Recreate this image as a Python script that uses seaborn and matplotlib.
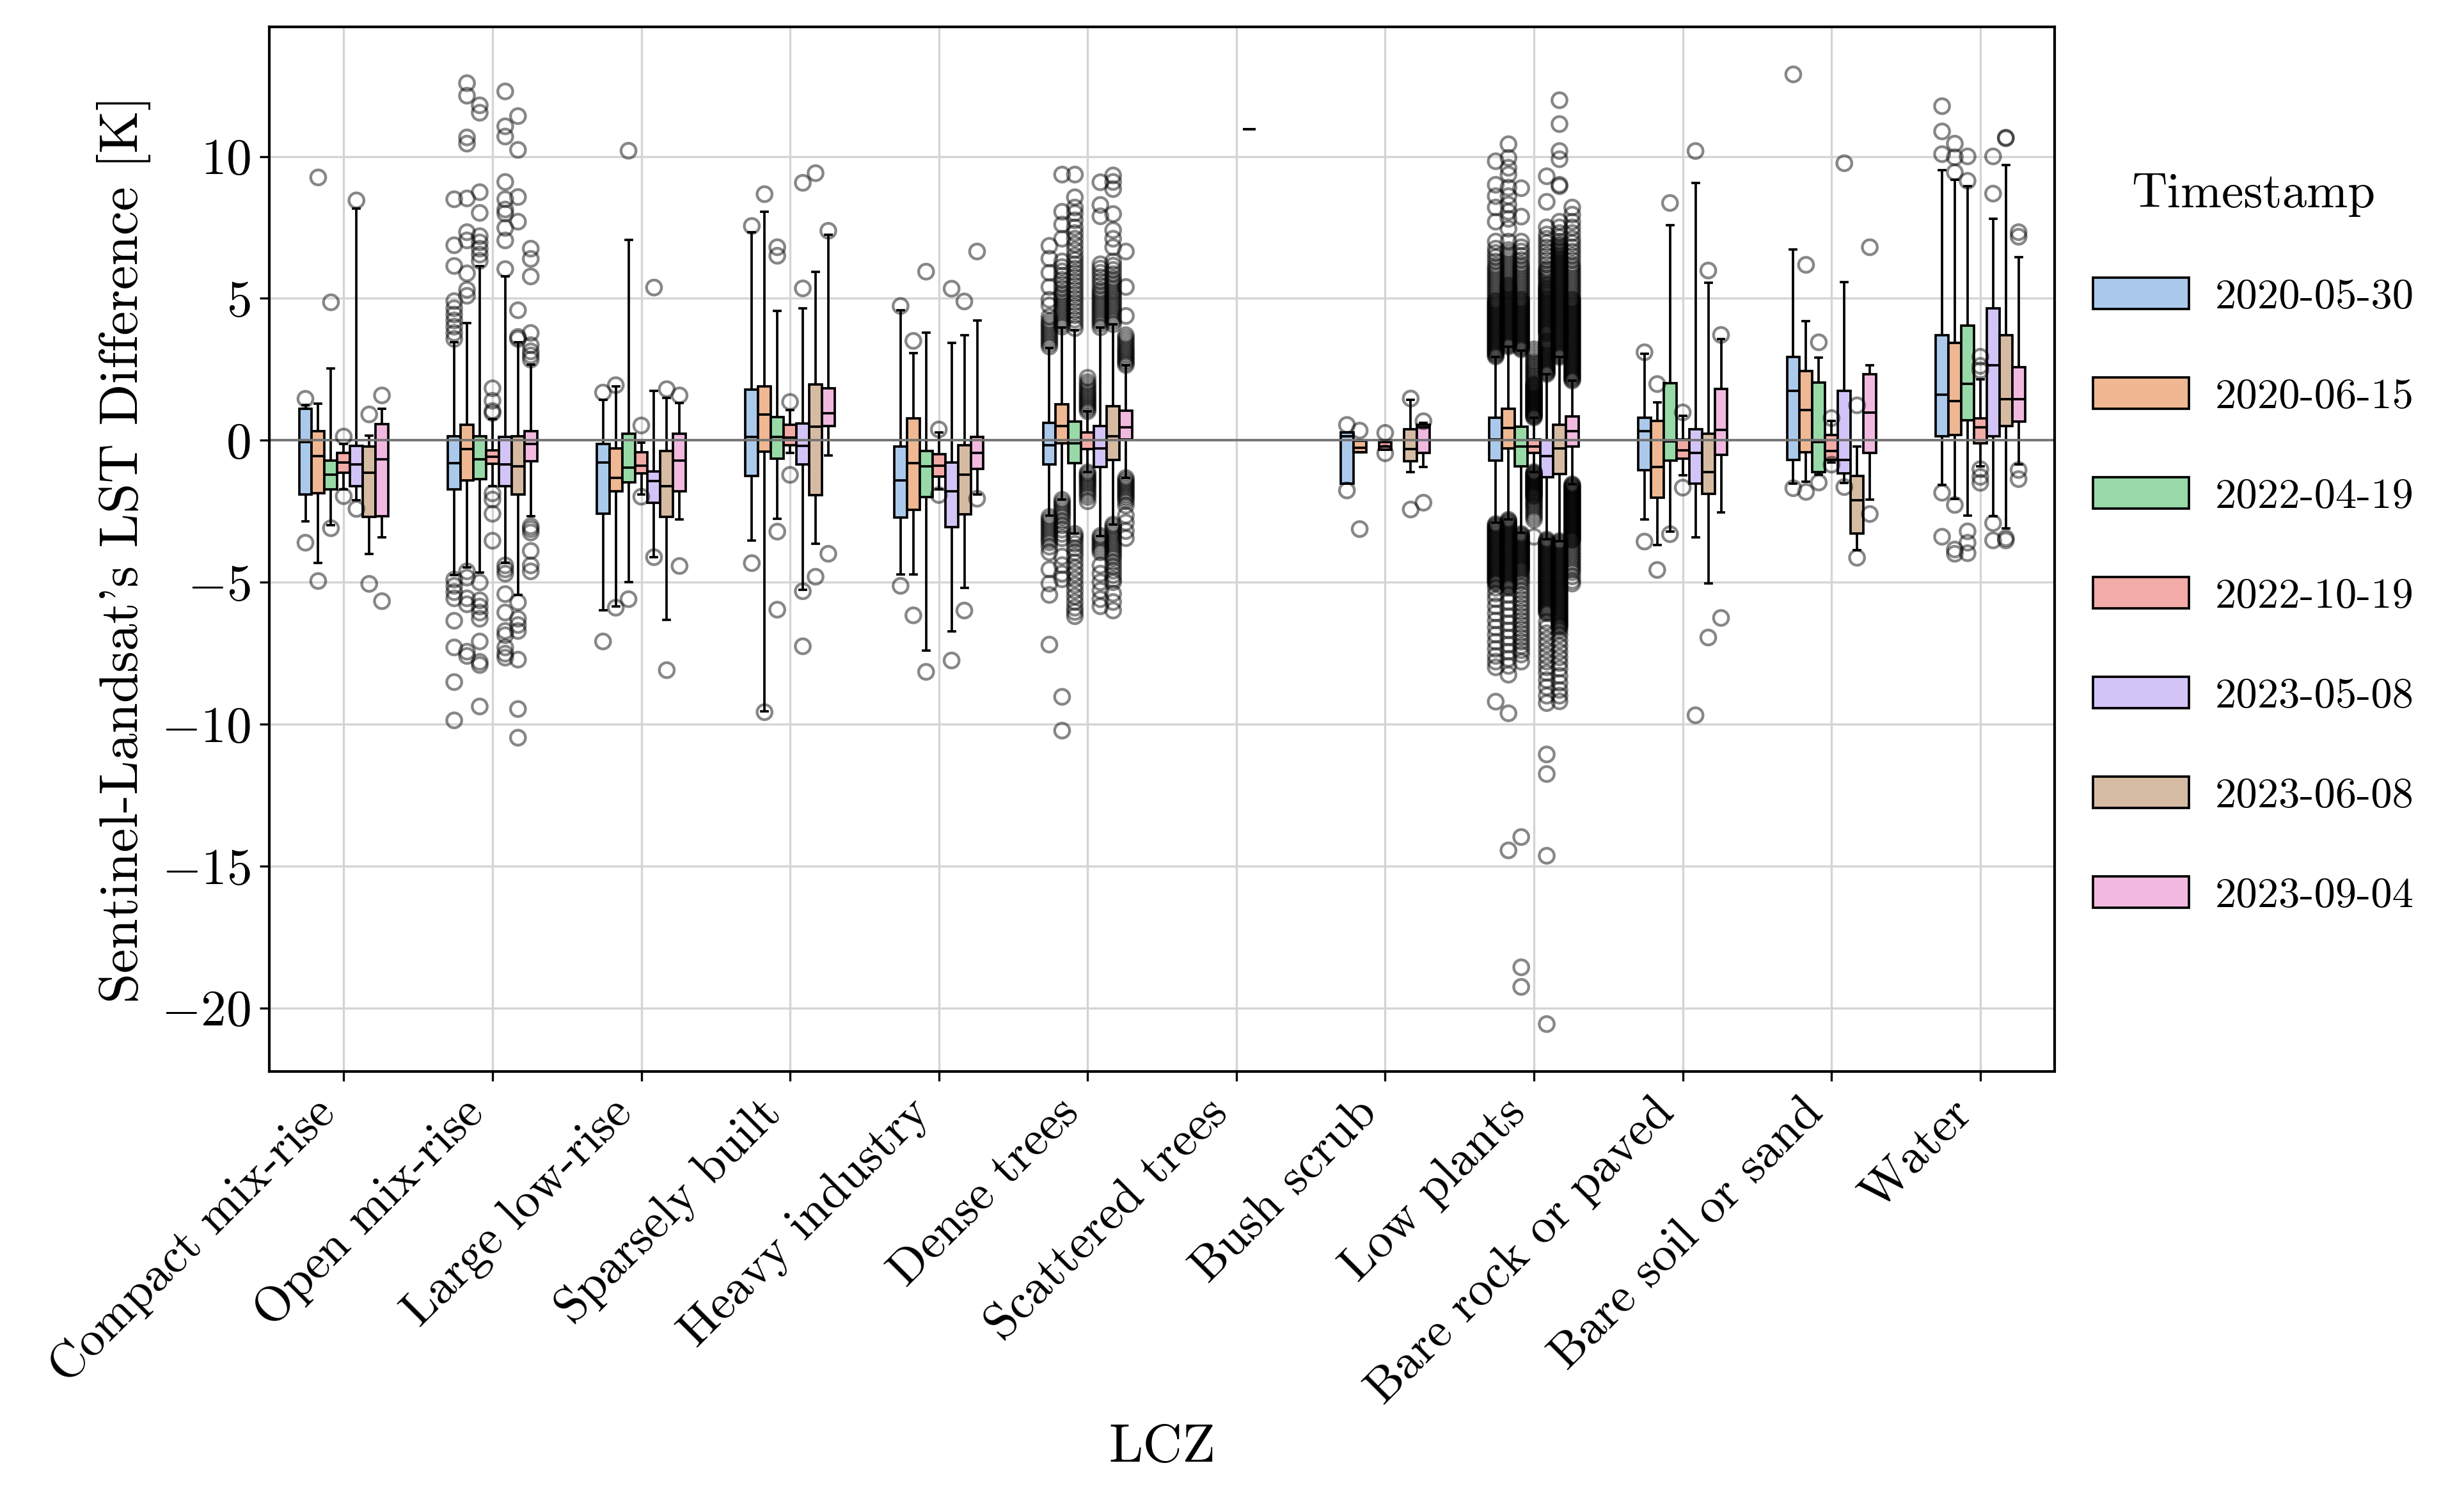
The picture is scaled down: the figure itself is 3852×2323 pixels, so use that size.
import numpy as np
import pandas as pd
import matplotlib.pyplot as plt
import seaborn as sns

plt.rcParams["font.family"] = "cmr10"
plt.rcParams["mathtext.fontset"] = "cm"
plt.rcParams["axes.formatter.use_mathtext"] = True
plt.rcParams["axes.linewidth"] = 1.0

lcz = ["Compact mix-rise", "Open mix-rise", "Large low-rise", "Sparsely built",
       "Heavy industry", "Dense trees", "Scattered trees", "Bush scrub",
       "Low plants", "Bare rock or paved", "Bare soil or sand", "Water"]
dates = ["2020-05-30", "2020-06-15", "2022-04-19", "2022-10-19",
         "2023-05-08", "2023-06-08", "2023-09-04"]

# per LCZ: (lower whisker, Q1, median, Q3, upper whisker), None = no data
box_0530 = [(-2.85, -1.90, -0.06, 1.10, 1.25), (-4.74, -1.74, -0.81, 0.13, 3.45),
            (-6.0, -2.59, -0.78, -0.13, 1.42), (-3.54, -1.25, 0.12, 1.78, 7.33),
            (-4.73, -2.73, -1.42, -0.22, 4.57), (-2.65, -0.86, -0.18, 0.62, 3.26),
            None, (-1.53, -1.53, 0.14, 0.27, 0.27),
            (-2.9, -0.71, 0.02, 0.79, 2.93), (-2.79, -1.05, 0.31, 0.79, 3.05),
            (-1.53, -0.69, 1.74, 2.94, 6.73), (-1.57, 0.14, 1.61, 3.69, 9.52)]
box_0615 = [(-4.32, -1.87, -0.57, 0.33, 1.30), (-4.48, -1.41, -0.32, 0.55, 4.14),
            (-5.86, -1.80, -1.33, -0.28, 1.90), (-9.55, -0.39, 0.91, 1.90, 8.06),
            (-4.73, -2.46, -0.81, 0.78, 3.07), (-2.09, -0.10, 0.51, 1.26, 3.98),
            None, (-0.42, -0.42, -0.26, -0.02, -0.02),
            (-2.79, -0.29, 0.43, 1.10, 3.29), (-3.69, -2.02, -0.95, 0.67, 1.33),
            (-1.45, -0.42, 1.07, 2.43, 4.19), (-2.06, 0.19, 1.37, 3.42, 9.17)]
box_0419 = [(-3.0, -1.72, -1.22, -0.71, 2.52), (-4.65, -1.36, -0.68, 0.13, 6.13),
            (-4.99, -1.48, -0.96, 0.23, 7.06), (-2.77, -0.64, 0.12, 0.81, 4.55),
            (-7.41, -2.01, -0.93, -0.37, 3.79), (-3.29, -0.81, -0.10, 0.65, 3.87),
            None, None,
            (-3.26, -0.93, -0.21, 0.48, 3.17), (-3.21, -0.71, -0.05, 2.02, 7.57),
            (-1.21, -1.13, -0.06, 2.03, 2.91), (-2.65, 0.70, 1.98, 4.03, 8.96)]
box_1019 = [(-1.72, -1.14, -0.78, -0.45, -0.13), (-1.61, -0.83, -0.58, -0.35, 0.74),
            (-1.90, -1.17, -0.90, -0.42, -0.09), (-0.45, -0.17, 0.09, 0.55, 1.06),
            (-1.74, -1.29, -0.89, -0.50, 0.27), (-1.13, -0.30, 0.0, 0.27, 1.02),
            None, (-0.34, -0.34, -0.21, -0.06, -0.06),
            (-1.12, -0.45, -0.21, 0.02, 0.79), (-1.24, -0.64, -0.36, 0.02, 0.86),
            (-0.78, -0.70, -0.37, 0.18, 0.67), (-0.93, -0.10, 0.46, 0.78, 2.14)]
box_0508 = [(-2.12, -1.62, -0.86, -0.20, 8.16), (-4.33, -1.61, -0.86, 0.12, 5.78),
            (-4.12, -2.20, -1.43, -1.10, 1.75), (-5.28, -0.86, -0.20, 0.59, 4.64),
            (-6.73, -3.05, -1.80, -0.78, 3.42), (-3.37, -0.94, -0.29, 0.51, 3.98),
            (10.96, 10.96, 10.96, 10.96, 10.96), None,
            (-3.5, -1.31, -0.57, 0.0, 2.33), (-3.43, -1.52, -0.45, 0.38, 9.07),
            (-1.5, -1.17, -0.69, 1.74, 5.58), (-2.68, 0.14, 2.65, 4.65, 7.81)]
box_0608 = [(-4.0, -2.71, -1.14, -0.23, 0.16), (-5.45, -1.90, -0.93, 0.13, 3.45),
            (-6.33, -2.70, -1.62, -0.38, 1.49), (-3.64, -1.94, 0.48, 1.97, 5.94),
            (-5.21, -2.60, -1.21, -0.18, 3.69), (-2.97, -0.70, 0.14, 1.21, 4.09),
            None, (-1.13, -0.73, -0.30, 0.38, 1.42),
            (-3.55, -1.19, -0.29, 0.55, 2.93), (-5.05, -1.88, -1.12, 0.24, 5.55),
            (-3.88, -3.29, -2.12, -1.26, -0.21), (-3.1, 0.51, 1.45, 3.69, 9.7)]
box_0904 = [(-3.43, -2.67, -0.67, 0.57, 1.10), (-2.67, -0.75, -0.13, 0.33, 2.67),
            (-2.78, -1.80, -0.71, 0.23, 1.32), (-0.54, 0.49, 0.96, 1.83, 7.25),
            (-1.90, -1.0, -0.45, 0.11, 4.22), (-1.33, 0.02, 0.46, 1.05, 2.65),
            None, (-0.94, -0.45, 0.46, 0.54, 0.62),
            (-1.55, -0.21, 0.31, 0.83, 2.1), (-2.55, -0.52, 0.36, 1.81, 3.57),
            (-2.09, -0.45, 0.97, 2.33, 2.65), (-0.85, 0.65, 1.45, 2.57, 6.45)]

# outliers of the two crowded zones
dense_0530 = [3.3, 3.4, 3.5, 3.6, 3.7, 3.8, 3.9, 4.0, 4.1, 4.2, 4.35, 4.75, 4.95, 5.4, 5.9, 6.4, 6.85,
              -2.7, -2.8, -2.9, -3.0, -3.1, -3.2, -3.3, -3.4, -3.5, -3.6, -3.75, -3.95, -4.55,
              -5.05, -5.45, -7.2]
dense_0615 = [4.0, 4.1, 4.2, 4.3, 4.4, 4.5, 4.6, 4.7, 4.8, 4.9, 5.0, 5.1, 5.2, 5.35, 5.5, 5.65, 5.8,
              5.95, 6.1, 6.3, 7.1, 7.6, 8.05, 9.36,
              -2.1, -2.2, -2.3, -2.4, -2.5, -2.6, -2.7, -2.85, -3.0, -3.15, -3.3, -3.45, -4.1, -4.4,
              -4.7, -4.9, -9.04, -10.23]
dense_0419 = [3.95, 4.1, 4.25, 4.4, 4.55, 4.7, 4.85, 5.0, 5.15, 5.3, 5.45, 5.6, 5.75, 5.9, 6.05, 6.2,
              6.35, 6.5, 6.7, 6.9, 7.1, 7.3, 7.5, 7.75, 8.0, 8.2, 8.56, 9.36,
              -3.3, -3.4, -3.5, -3.65, -3.8, -3.95, -4.1, -4.3, -4.5, -4.7, -4.9, -5.1, -5.3, -5.5,
              -5.7, -5.9, -6.05, -6.2]
dense_1019 = [1.02, 1.1, 1.18, 1.26, 1.34, 1.42, 1.5, 1.58, 1.66, 1.75, 1.85, 1.95, 2.05, 2.2,
              -1.13, -1.2, -1.28, -1.36, -1.44, -1.52, -1.6, -1.7, -1.8, -1.9, -2.0, -2.15]
dense_0508 = [3.98, 4.1, 4.2, 4.3, 4.4, 4.5, 4.6, 4.7, 4.8, 4.9, 5.0, 5.1, 5.2, 5.3, 5.45, 5.6, 5.75,
              5.9, 6.05, 6.2, 7.89, 8.29, 9.09,
              -3.37, -3.45, -3.55, -3.65, -3.75, -3.85, -3.95, -4.41, -4.7, -5.0, -5.3, -5.6, -5.85]
dense_0608 = [4.09, 4.2, 4.3, 4.4, 4.5, 4.6, 4.7, 4.8, 4.9, 5.0, 5.1, 5.2, 5.3, 5.4, 5.5, 5.6, 5.7,
              5.85, 6.0, 6.15, 6.3, 6.8, 7.1, 7.4, 7.97, 8.85, 9.1, 9.33,
              -2.97, -3.05, -3.15, -3.25, -3.35, -3.45, -3.55, -3.65, -3.75, -3.85, -3.95, -4.05,
              -4.15, -4.3, -4.45, -4.6, -4.75, -4.9, -5.0, -5.4, -5.7, -6.0]
dense_0904 = [2.65, 2.73, 2.81, 2.89, 2.97, 3.05, 3.13, 3.21, 3.3, 3.4, 3.5, 3.6, 3.7, 4.38, 5.4, 6.65,
              -1.33, -1.41, -1.49, -1.57, -1.65, -1.73, -1.81, -1.89, -1.97, -2.05, -2.15, -2.3,
              -2.65, -2.9, -3.2, -3.45]

low_0530 = [2.95, 3.05, 3.15, 3.25, 3.35, 3.45, 3.55, 3.65, 3.75, 3.85, 3.95, 4.05, 4.15, 4.25, 4.35,
            4.45, 4.55, 4.65, 4.75, 4.85, 4.95, 5.05, 5.15, 5.25, 5.35, 5.45, 5.55, 5.65, 5.75, 5.85,
            5.95, 6.05, 6.15, 6.3, 6.45, 6.6, 6.75, 7.0, 7.7, 8.2, 8.6, 9.0, 9.83,
            -2.95, -3.05, -3.15, -3.25, -3.35, -3.45, -3.55, -3.65, -3.75, -3.85, -3.95, -4.05,
            -4.15, -4.25, -4.35, -4.45, -4.55, -4.65, -4.75, -4.85, -4.95, -5.05, -5.2, -5.4,
            -5.6, -5.85, -6.1, -6.35, -6.6, -6.85, -7.1, -7.35, -7.6, -7.8, -8.0, -9.21]
low_0615 = [3.3, 3.4, 3.5, 3.6, 3.7, 3.8, 3.9, 4.0, 4.1, 4.2, 4.3, 4.4, 4.5, 4.6, 4.7, 4.8, 4.9,
            5.0, 5.1, 5.2, 5.3, 5.4, 5.5, 5.6, 5.7, 5.8, 5.9, 6.0, 6.1, 6.2, 6.3, 6.4, 6.5, 6.6,
            6.7, 7.0, 7.45, 7.8, 8.05, 8.3, 8.6, 8.9, 9.36, 9.6, 9.95, 10.43,
            -2.8, -2.9, -3.0, -3.1, -3.2, -3.3, -3.4, -3.5, -3.6, -3.7, -3.8, -3.9, -4.0, -4.1,
            -4.2, -4.3, -4.4, -4.5, -4.6, -4.7, -4.8, -4.9, -5.0, -5.1, -5.2, -5.45, -5.7, -5.95,
            -6.2, -6.45, -6.7, -6.95, -7.2, -7.45, -7.7, -7.95, -8.26, -9.62, -14.45]
low_0419 = [3.2, 3.3, 3.4, 3.5, 3.6, 3.7, 3.8, 3.9, 4.0, 4.1, 4.2, 4.3, 4.4, 4.5, 4.6, 4.7, 4.8,
            4.9, 5.0, 5.1, 5.2, 5.3, 5.4, 5.5, 5.6, 5.7, 5.8, 5.9, 6.0, 6.1, 6.2, 6.35, 6.5, 6.65,
            6.8, 7.0, 7.88, 8.88,
            -3.3, -3.4, -3.5, -3.6, -3.7, -3.8, -3.9, -4.0, -4.1, -4.2, -4.3, -4.4, -4.5, -4.6,
            -4.7, -4.8, -4.9, -5.0, -5.15, -5.3, -5.45, -5.6, -5.75, -5.9, -6.05, -6.2, -6.35,
            -6.5, -6.65, -6.8, -6.95, -7.1, -7.25, -7.4, -7.55, -7.8, -13.98, -18.57, -19.26]
low_1019 = [0.8, 0.88, 0.96, 1.04, 1.12, 1.2, 1.28, 1.36, 1.44, 1.52, 1.6, 1.68, 1.76, 1.84, 1.92,
            2.0, 2.08, 2.16, 2.24, 2.32, 2.4, 2.48, 2.56, 2.64, 2.72, 2.8, 2.9, 3.0, 3.1, 3.2,
            -1.12, -1.2, -1.28, -1.36, -1.44, -1.52, -1.6, -1.68, -1.76, -1.84, -1.92, -2.0,
            -2.08, -2.16, -2.24, -2.32, -2.4, -2.5, -2.6, -2.7, -2.8, -3.4]
low_0508 = [2.33, 2.43, 2.53, 2.63, 2.73, 2.83, 2.93, 3.03, 3.13, 3.23, 3.33, 3.43, 3.53, 3.63,
            3.73, 3.83, 3.93, 4.03, 4.13, 4.23, 4.33, 4.43, 4.53, 4.63, 4.73, 4.83, 4.93, 5.03,
            5.13, 5.23, 5.33, 5.45, 5.6, 5.75, 5.9, 6.05, 6.2, 6.35, 6.5, 6.65, 6.8, 6.95, 7.1,
            7.25, 7.5, 8.4, 9.3,
            -3.5, -3.6, -3.7, -3.8, -3.9, -4.0, -4.1, -4.2, -4.3, -4.4, -4.5, -4.6, -4.7, -4.8,
            -4.9, -5.0, -5.1, -5.2, -5.3, -5.4, -5.5, -5.6, -5.7, -5.8, -5.9, -6.0, -6.1, -6.4,
            -6.6, -6.8, -7.0, -7.2, -7.4, -7.6, -7.8, -8.0, -8.2, -8.45, -8.7, -9.0, -9.26,
            -11.07, -11.76, -14.64, -20.57]
low_0608 = [2.93, 3.03, 3.13, 3.23, 3.33, 3.43, 3.53, 3.63, 3.73, 3.83, 3.93, 4.03, 4.13, 4.23,
            4.33, 4.43, 4.53, 4.63, 4.73, 4.83, 4.93, 5.03, 5.13, 5.23, 5.33, 5.43, 5.53, 5.63,
            5.73, 5.83, 5.93, 6.03, 6.13, 6.23, 6.33, 6.43, 6.53, 6.63, 6.73, 6.85, 7.0, 7.15,
            7.3, 7.5, 7.7, 8.95, 9.0, 9.9, 10.19, 11.14, 11.98,
            -3.55, -3.65, -3.75, -3.85, -3.95, -4.05, -4.15, -4.25, -4.35, -4.45, -4.55, -4.65,
            -4.75, -4.85, -4.95, -5.05, -5.15, -5.25, -5.35, -5.45, -5.55, -5.65, -5.75, -5.85,
            -5.95, -6.05, -6.15, -6.25, -6.35, -6.45, -6.55, -6.7, -6.85, -7.05, -7.25, -7.45,
            -7.65, -7.85, -8.05, -8.3, -8.55, -8.8, -9.0, -9.2]
low_0904 = [2.1, 2.2, 2.3, 2.4, 2.5, 2.6, 2.7, 2.8, 2.9, 3.0, 3.1, 3.2, 3.3, 3.4, 3.5, 3.6, 3.7,
            3.8, 3.9, 4.0, 4.1, 4.2, 4.3, 4.4, 4.5, 4.6, 4.7, 4.8, 4.9, 5.0, 5.1, 5.2, 5.3, 5.4,
            5.5, 5.6, 5.7, 5.8, 5.9, 6.0, 6.1, 6.2, 6.35, 6.5, 6.65, 6.8, 6.95, 7.1, 7.3, 7.5,
            7.7, 7.95, 8.2,
            -1.55, -1.63, -1.71, -1.79, -1.87, -1.95, -2.03, -2.11, -2.19, -2.27, -2.35, -2.43,
            -2.51, -2.59, -2.67, -2.75, -2.83, -2.91, -2.99, -3.07, -3.15, -3.23, -3.31, -3.39,
            -3.47, -3.55, -3.65, -3.75, -3.85, -3.95, -4.05, -4.15, -4.25, -4.35, -4.45, -4.55,
            -4.65, -4.8, -4.95, -5.05]

# the solid black cores of the low-plants clouds hold even more points
core_0530 = [3.0, 3.1, 3.2, 3.3, 3.4, 3.5, 3.6, 3.7, 3.8, 3.9, 4.0, 4.1, 4.2, 4.3, 4.4, 4.5, 4.6,
             4.7, 4.8, 4.9,
             -3.0, -3.1, -3.2, -3.3, -3.4, -3.5, -3.6, -3.7, -3.8, -3.9, -4.0, -4.1, -4.2, -4.3,
             -4.4, -4.5, -4.6, -4.7, -4.8, -4.9, -5.0]
core_0615 = [3.35, 3.45, 3.55, 3.65, 3.75, 3.85, 3.95, 4.05, 4.15, 4.25, 4.35, 4.45, 4.55, 4.65,
             4.75, 4.85, 4.95, 5.05, 5.15, 5.25, 5.35, 5.45,
             -2.85, -2.95, -3.05, -3.15, -3.25, -3.35, -3.45, -3.55, -3.65, -3.75, -3.85, -3.95,
             -4.05, -4.15, -4.25, -4.35, -4.45, -4.55, -4.65, -4.75, -4.85, -4.95, -5.05, -5.15]
core_0419 = [3.25, 3.35, 3.45, 3.55, 3.65, 3.75, 3.85, 3.95, 4.05, 4.15, 4.25, 4.35, 4.45, 4.55,
             4.65, 4.75, 4.85, 4.95,
             -3.35, -3.45, -3.55, -3.65, -3.75, -3.85, -3.95, -4.05, -4.15, -4.25, -4.35, -4.45,
             -4.55]
core_1019 = [0.84, 0.92, 1.0, 1.08, 1.16, 1.24, 1.32, 1.4, 1.48, 1.56, 1.64, 1.72, 1.8, 1.88, 1.96,
             -1.16, -1.24, -1.32, -1.4, -1.48, -1.56, -1.64, -1.72, -1.8, -1.88, -1.96]
core_0508 = [2.38, 2.48, 2.58, 2.68, 2.78, 2.88, 2.98, 3.08, 3.18, 3.28, 3.38, 3.48, 3.78, 3.88,
             3.98, 4.08, 4.18, 4.28, 4.38, 4.48, 4.58, 4.68, 4.78, 4.88, 4.98, 5.08, 5.18, 5.28,
             5.38, 5.5, 5.68, 5.83, 5.98,
             -3.55, -3.65, -3.75, -3.85, -3.95, -4.05, -4.15, -4.25, -4.35, -4.45, -4.55, -4.65,
             -4.75, -4.85, -4.95, -5.05, -5.15, -5.25, -5.35, -5.45, -5.55, -5.65, -5.75, -5.85,
             -5.95, -6.05]
core_0608 = [2.98, 3.08, 3.18, 3.28, 3.38, 3.48, 3.58, 3.68, 3.78, 3.88, 3.98, 4.08, 4.18, 4.28,
             4.38, 4.48, 4.58, 4.68, 4.78, 4.88, 4.98, 5.08, 5.18, 5.28, 5.38, 5.48, 5.58, 5.68,
             5.78, 5.88, 5.98, 6.08, 6.18, 6.28, 6.38, 6.48, 6.58, 6.68, 6.78, 6.9,
             -3.6, -3.7, -3.8, -3.9, -4.0, -4.1, -4.2, -4.3, -4.4, -4.5, -4.6, -4.7, -4.8, -4.9,
             -5.0, -5.1, -5.2, -5.3, -5.4, -5.5, -5.6, -5.7, -5.8, -5.9, -6.0, -6.1, -6.2, -6.3,
             -6.4, -6.5, -6.6]
core_0904 = [2.15, 2.25, 2.35, 2.45, 2.55, 2.65, 2.75, 2.85, 2.95, 3.05, 3.15, 3.25, 3.35, 3.45,
             3.55, 3.65, 3.75, 3.85, 3.95, 4.05, 4.15, 4.25, 4.35, 4.45, 4.55, 4.65, 4.75, 4.85,
             4.95,
             -1.59, -1.67, -1.75, -1.83, -1.91, -1.99, -2.07, -2.15, -2.23, -2.31, -2.39, -2.47,
             -2.55, -2.63, -2.71, -2.79, -2.87, -2.95, -3.03, -3.11, -3.19, -3.27, -3.35, -3.43,
             -3.51]

# points beyond the whiskers, per LCZ
out_0530 = [[1.46, -3.61],
            [3.57, 3.78, 4.0, 4.22, 4.43, 4.65, 4.9, 6.14, 6.87, 8.49, -4.91, -5.13, -5.35,
             -5.57, -6.36, -7.3, -8.52, -9.87],
            [1.68, -7.09], [7.55, -4.33], [4.73, -5.13], dense_0530, [], [0.54, -1.77],
            low_0530 + core_0530, [3.1, -3.57], [12.89, -1.69],
            [10.08, 10.88, 11.77, -1.85, -3.4]]
out_0615 = [[9.26, -4.96],
            [5.09, 5.3, 5.88, 7.04, 7.33, 8.52, 10.45, 10.67, 12.14, 12.58, -4.62, -4.84,
             -5.57, -5.78, -7.45, -7.6],
            [1.94, -5.9], [8.67, -9.58], [3.5, -6.17], dense_0615, [], [0.34, -3.13],
            low_0615 + core_0615, [1.98, -4.57], [6.18, -1.82],
            [9.44, 9.97, 10.45, -2.28, -3.85, -4.0]]
out_0419 = [[4.86, -3.10],
            [6.32, 6.54, 6.75, 6.97, 7.19, 8.01, 8.74, 11.54, 11.8, -5.01, -5.64, -5.86,
             -6.07, -6.29, -7.09, -7.81, -7.92, -9.38],
            [10.2, -5.6], [6.5, 6.8, -3.22, -5.97], [5.94, -8.16], dense_0419, [], [],
            low_0419 + core_0419, [8.36, -3.31], [3.45, -1.49],
            [9.14, 10.0, -3.21, -3.61, -3.98]]
out_1019 = [[0.13, -1.97],
            [0.96, 1.03, 1.39, 1.83, -1.87, -2.09, -2.59, -3.54],
            [0.52, -1.99], [1.35, -1.22], [0.38, -1.93], dense_1019, [], [0.26, -0.46],
            low_1019 + core_1019, [0.98, -1.67], [0.78, -0.86],
            [2.46, 2.62, 2.94, -1.02, -1.29, -1.5]]
out_0508 = [[8.45, -2.42],
            [6.03, 7.04, 7.48, 7.99, 8.13, 8.49, 9.1, 10.7, 11.06, 12.29, -4.41, -4.55, -4.7,
             -5.42, -6.07, -6.72, -6.87, -7.3, -7.52, -7.66],
            [5.38, -4.12], [5.35, 9.07, -5.32, -7.26], [5.34, -7.76], dense_0508, [], [],
            low_0508 + core_0508, [10.19, -9.69], [9.76, -1.65],
            [8.69, 10.0, -2.92, -3.53]]
out_0608 = [[0.91, -5.06],
            [3.57, 3.64, 4.58, 7.7, 8.57, 10.23, 11.42, -5.71, -6.29, -6.51, -6.72, -7.73,
             -9.47, -10.48],
            [1.8, -8.1], [9.41, -4.81], [4.89, -6.0], dense_0608, [], [1.47, -2.44],
            low_0608 + core_0608, [5.98, -6.95], [1.23, -4.14],
            [10.64, 10.66, -3.45, -3.53]]
out_0904 = [[1.58, -5.67],
            [2.84, 2.99, 3.13, 3.35, 3.78, 5.77, 6.39, 6.75, -3.03, -3.13, -3.25, -3.9, -4.41,
             -4.62],
            [1.58, -4.43], [7.38, -4.0], [6.65, -2.06], dense_0904, [], [0.67, -2.2],
            low_0904 + core_0904, [3.71, -6.26], [6.8, -2.6],
            [7.17, 7.33, -1.05, -1.37]]

box_sets = [box_0530, box_0615, box_0419, box_1019, box_0508, box_0608, box_0904]
out_sets = [out_0530, out_0615, out_0419, out_1019, out_0508, out_0608, out_0904]

box_df = pd.DataFrame(
    [(zone, date, v)
     for date, boxes in zip(dates, box_sets)
     for zone, stats in zip(lcz, boxes) if stats
     for v in stats],
    columns=["LCZ", "Timestamp", "diff"])
out_df = pd.DataFrame(
    [(zone, date, v)
     for date, groups in zip(dates, out_sets)
     for zone, vals in zip(lcz, groups)
     for v in vals],
    columns=["LCZ", "Timestamp", "diff"])

fig = plt.figure(figsize=(3852 / 300, 2323 / 300), dpi=300)
ax = fig.add_axes([0.1093, 0.2789, 0.7246, 0.703])

ax.axhline(0, color="0.45", linewidth=0.9, zorder=2.5)
sns.boxplot(data=box_df, x="LCZ", y="diff", hue="Timestamp", order=lcz, hue_order=dates,
            palette="pastel", width=0.6, whis=(0, 100), showfliers=False,
            linecolor="black", linewidth=0.9, ax=ax)

n0 = len(ax.collections)
sns.stripplot(data=out_df, x="LCZ", y="diff", hue="Timestamp", order=lcz, hue_order=dates,
              dodge=True, jitter=False, size=5.6, legend=False, ax=ax)
# stripplot dodges over 0.8 of a category, the boxes over 0.6: pull the points in
for coll in ax.collections[n0:]:
    xy = np.asarray(coll.get_offsets(), dtype=float)
    if len(xy):
        base = np.round(xy[:, 0])
        xy[:, 0] = base + (xy[:, 0] - base) * 0.6 / 0.8
        coll.set_offsets(xy)
    coll.set_facecolor("none")
    coll.set_edgecolor((0, 0, 0, 0.47))
    coll.set_linewidth(1.05)
    coll.set_zorder(3)

ax.grid(True, color="#d4d4d4", linewidth=0.8)
ax.set_axisbelow(True)
ax.set_yticks([-20, -15, -10, -5, 0, 5, 10])
ax.set_xlabel("LCZ", fontsize=20.5)
ax.set_ylabel("Sentinel-Landsat's LST Difference [K]", fontsize=20.5)
ax.tick_params(axis="y", labelsize=19)
ax.tick_params(axis="x", labelsize=18.5)
plt.setp(ax.get_xticklabels(), rotation=45, ha="right")

sns.move_legend(ax, "center left", bbox_to_anchor=(1.0, 0.505), frameon=False,
                fontsize=16, title_fontsize=18.5, labelspacing=1.43,
                handlelength=2.25, handleheight=0.75, handletextpad=0.6)

fig.savefig("out.png", dpi=300)
